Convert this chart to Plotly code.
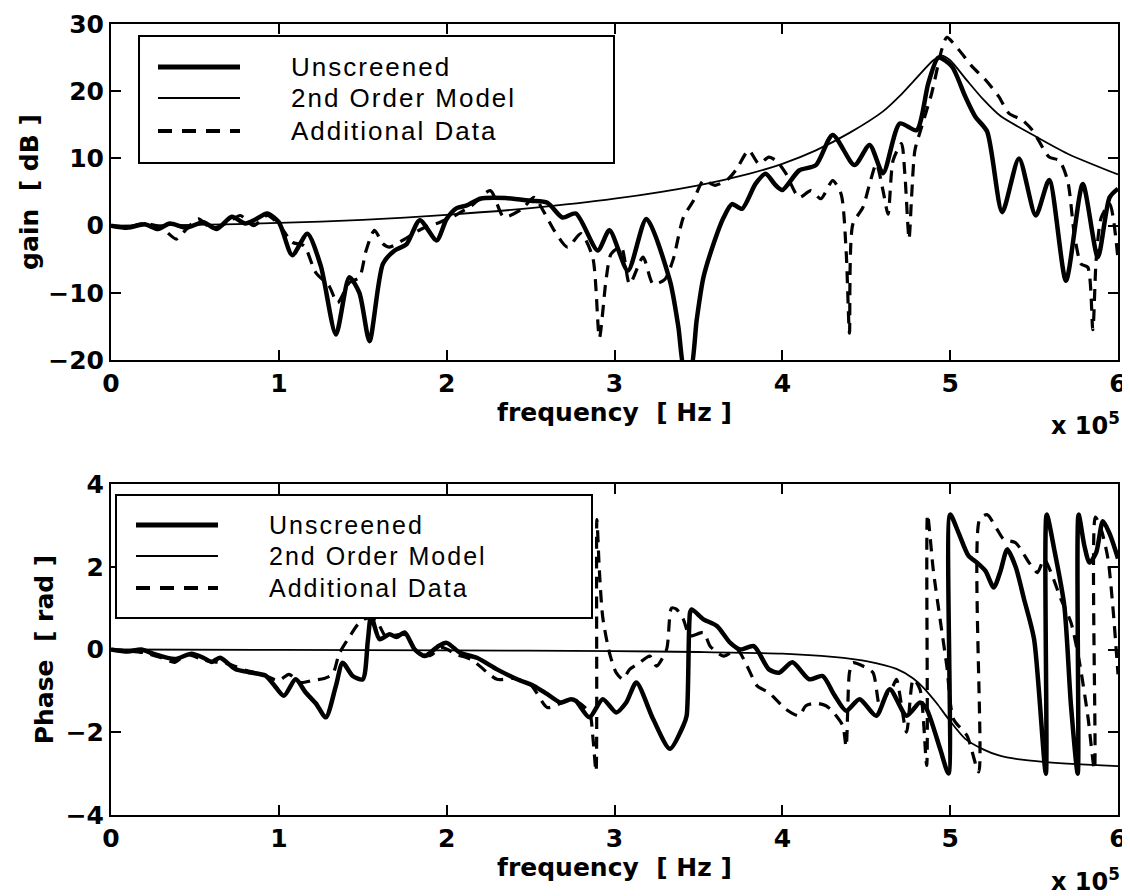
import plotly.graph_objects as go

# ---------------- data (frequency in units of 1e5 Hz) ----------------
# Gain [dB]
f_unscr_gain = [0.00, 0.10, 0.20, 0.28, 0.35, 0.45, 0.55, 0.63, 0.72, 0.80, 0.86, 0.93, 1.00, 1.08, 1.17, 1.25,
                1.34, 1.42, 1.48, 1.54, 1.62, 1.69, 1.76, 1.84, 1.94, 2.00, 2.06, 2.12, 2.20, 2.35, 2.50, 2.60,
                2.69, 2.77, 2.90, 2.97, 3.08, 3.19, 3.33, 3.38, 3.42, 3.45, 3.49, 3.53, 3.60, 3.65, 3.70, 3.76,
                3.84, 3.90, 3.96, 4.00, 4.10, 4.20, 4.30, 4.43, 4.52, 4.60, 4.70, 4.80, 4.87, 4.93, 5.01, 5.09,
                5.15, 5.22, 5.31, 5.41, 5.51, 5.59, 5.69, 5.79, 5.88, 5.95, 6.00]
unscr_gain = [0.0, -0.3, 0.2, -0.5, 0.3, -0.3, 0.5, -0.5, 1.3, 0.3, 0.9, 1.8, 0.5, -4.4, -1.2, -6.0,
              -16.2, -7.7, -10.0, -17.2, -5.7, -3.7, -2.8, 0.8, -2.2, 1.0, 2.6, 3.0, 4.0, 4.1, 3.7, 3.4,
              1.2, 1.8, -3.7, -0.7, -6.7, 1.0, -8.2, -15.0, -22.0, -22.0, -14.0, -7.7, -2.0, 1.2, 3.2, 2.5,
              6.2, 7.7, 6.0, 5.3, 8.2, 9.0, 13.5, 9.0, 12.0, 7.8, 15.2, 14.2, 21.2, 25.0, 23.7, 19.2,
              16.2, 14.0, 2.0, 10.0, 1.5, 6.8, -8.2, 6.2, -4.7, 4.2, 5.5]

f_model_gain = [0.0, 0.5, 1.0, 1.5, 2.0, 2.5, 3.0, 3.5, 3.8, 4.0, 4.2, 4.4, 4.6, 4.7, 4.8, 4.9, 4.95,
                5.0, 5.1, 5.2, 5.3, 5.5, 5.7, 6.0]
model_gain = [0.0, 0.1, 0.4, 0.85, 1.6, 2.6, 4.0, 6.0, 7.7, 9.2, 11.2, 13.8, 17.0, 19.3, 22.0, 24.6, 25.3,
              24.6, 21.6, 18.7, 16.3, 13.4, 10.7, 7.6]

f_add_gain = [0.00, 0.10, 0.20, 0.30, 0.39, 0.45, 0.52, 0.60, 0.70, 0.77, 0.85, 0.93, 1.00, 1.08, 1.15, 1.22,
              1.30, 1.35, 1.42, 1.48, 1.52, 1.57, 1.62, 1.66, 1.75, 1.85, 1.96, 2.05, 2.15, 2.26, 2.34, 2.45,
              2.52, 2.58, 2.64, 2.72, 2.80, 2.87, 2.91, 2.95, 2.98, 3.04, 3.09, 3.17, 3.23, 3.30, 3.35, 3.41,
              3.47, 3.53, 3.60, 3.68, 3.73, 3.80, 3.86, 3.92, 3.97, 4.02, 4.10, 4.17, 4.23, 4.30, 4.35, 4.38,
              4.40, 4.42, 4.48, 4.52, 4.56, 4.60, 4.63, 4.66, 4.71, 4.73, 4.755, 4.77, 4.79, 4.83, 4.89, 4.95,
              4.98, 5.05, 5.13, 5.21, 5.29, 5.35, 5.43, 5.49, 5.59, 5.65, 5.70, 5.74, 5.78, 5.82, 5.85, 5.87,
              5.90, 5.95, 6.00]
add_gain = [0.0, -0.2, 0.3, -0.3, -2.0, -0.5, 1.0, -0.4, 0.5, 1.5, 0.0, 1.5, 0.2, -2.5, -3.0, -7.0,
            -9.0, -11.5, -8.5, -7.7, -3.7, -0.7, -2.7, -3.2, -2.0, -0.5, 0.5, 1.5, 3.0, 5.2, 1.3, 2.5,
            4.2, 2.0, -0.7, -3.2, -1.2, -4.7, -16.7, -8.0, -4.2, -3.2, -8.7, -4.7, -8.7, -8.0, -5.0, 1.2,
            3.7, 6.7, 6.0, 7.0, 8.5, 11.2, 9.2, 10.2, 9.5, 7.8, 4.2, 5.2, 4.0, 6.7, 4.7, -3.7,
            -16.0, 0.2, 2.7, 6.2, 9.2, 5.2, 1.7, 9.7, 12.2, 7.7, -2.0, 4.2, 11.2, 14.7, 19.7, 26.2,
            28.0, 26.2, 23.7, 21.7, 19.2, 16.7, 15.7, 14.2, 10.2, 9.7, 6.7, -1.3, -5.7, -6.2, -15.5, -5.0,
            1.2, 3.2, -5.0]

# Phase [rad]
f_unscr_phase = [0.00, 0.10, 0.18, 0.25, 0.38, 0.48, 0.55, 0.60, 0.65, 0.74, 0.82, 0.92, 0.97, 1.03, 1.10, 1.16,
                 1.22, 1.28, 1.34, 1.38, 1.44, 1.50, 1.53, 1.55, 1.60, 1.66, 1.70, 1.75, 1.81, 1.87, 1.95, 2.00,
                 2.08, 2.18, 2.30, 2.42, 2.52, 2.60, 2.68, 2.74, 2.77, 2.85, 2.93, 3.01, 3.07, 3.13, 3.23, 3.33,
                 3.41, 3.43, 3.45, 3.46, 3.53, 3.61, 3.69, 3.75, 3.83, 3.92, 3.98, 4.06, 4.16, 4.24, 4.31, 4.38,
                 4.46, 4.56, 4.64, 4.74, 4.82, 4.86, 4.94, 4.99, 5.00, 5.05, 5.11, 5.16, 5.21, 5.26, 5.30, 5.34,
                 5.39, 5.44, 5.50, 5.57, 5.575, 5.62, 5.68, 5.72, 5.76, 5.765, 5.80, 5.83, 5.87, 5.91, 5.95, 6.00]
unscr_phase = [0.0, -0.05, 0.0, -0.1, -0.23, -0.1, -0.2, -0.3, -0.2, -0.47, -0.55, -0.63, -0.85, -1.12, -0.72, -1.04,
               -1.3, -1.64, -0.88, -0.32, -0.64, -0.72, 0.2, 0.81, 0.25, 0.37, 0.3, 0.41, 0.0, -0.16, 0.08, 0.16,
               -0.08, -0.2, -0.48, -0.72, -0.88, -1.08, -1.28, -1.2, -1.24, -1.64, -1.2, -1.52, -1.28, -0.8, -1.68, -2.4,
               -1.84, -1.6, 0.89, 0.97, 0.73, 0.57, 0.16, 0.0, 0.08, -0.48, -0.56, -0.31, -0.72, -0.64, -1.1, -1.48,
               -1.2, -1.6, -0.96, -1.6, -1.28, -1.44, -2.4, -3.0, 3.26, 2.82, 2.26, 2.1, 1.9, 1.5, 1.9, 2.42,
               2.0, 1.22, 0.25, -3.0, 3.26, 2.42, 1.06, -1.36, -3.0, 3.26, 2.5, 2.1, 2.34, 3.1, 2.8, 2.2]

f_model_phase = [0.0, 1.0, 2.0, 3.0, 3.5, 4.0, 4.3, 4.5, 4.68, 4.78, 4.84, 4.92, 4.99, 5.09, 5.2, 5.29,
                 5.4, 5.57, 5.75, 6.0]
model_phase = [0.0, -0.01, -0.02, -0.04, -0.06, -0.1, -0.18, -0.28, -0.47, -0.7, -0.92, -1.3, -1.68, -2.16, -2.42, -2.56,
               -2.65, -2.72, -2.77, -2.82]

f_add_phase = [0.00, 0.10, 0.20, 0.30, 0.38, 0.45, 0.55, 0.62, 0.70, 0.80, 0.90, 1.00, 1.06, 1.13, 1.20, 1.27,
               1.32, 1.36, 1.42, 1.47, 1.52, 1.58, 1.64, 1.70, 1.76, 1.82, 1.90, 1.97, 2.06, 2.15, 2.30, 2.40,
               2.50, 2.60, 2.68, 2.75, 2.85, 2.87, 2.89, 2.895, 2.91, 2.93, 2.97, 3.01, 3.05, 3.09, 3.15, 3.21,
               3.25, 3.31, 3.34, 3.37, 3.41, 3.45, 3.53, 3.57, 3.65, 3.73, 3.79, 3.85, 3.92, 3.96, 4.02, 4.10,
               4.14, 4.20, 4.26, 4.30, 4.36, 4.38, 4.40, 4.42, 4.48, 4.54, 4.58, 4.62, 4.66, 4.68, 4.74, 4.78,
               4.82, 4.86, 4.865, 4.90, 4.94, 4.98, 5.02, 5.10, 5.17, 5.175, 5.22, 5.28, 5.32, 5.39, 5.47, 5.52,
               5.56, 5.66, 5.72, 5.77, 5.82, 5.86, 5.865, 5.90, 5.94, 5.97, 6.00]
add_phase = [0.0, -0.03, -0.08, -0.2, -0.31, -0.12, -0.25, -0.3, -0.35, -0.5, -0.6, -0.75, -0.6, -0.8, -0.75, -0.7,
             -0.6, -0.1, 0.3, 0.6, 0.75, 0.7, 0.3, 0.35, 0.35, -0.05, -0.15, 0.05, -0.12, -0.25, -0.72, -0.7,
             -0.85, -1.4, -1.3, -1.2, -1.52, -2.07, -2.95, 3.14, 1.9, 0.78, -0.08, -0.56, -0.72, -0.48, -0.32, -0.16,
             -0.4, 0.0, 1.0, 0.97, 0.73, 0.33, 0.41, 0.08, -0.16, 0.0, -0.4, -0.88, -1.04, -1.2, -1.44, -1.6,
             -1.36, -1.3, -1.36, -1.5, -1.84, -2.35, -0.56, -0.32, -0.4, -0.56, -1.36, -1.1, -0.88, -0.72, -2.0, -0.72,
             -0.96, -2.8, 3.26, 1.9, 0.73, -0.4, -1.68, -2.08, -2.96, 3.14, 3.26, 2.9, 2.66, 2.58, 2.1, 1.86,
             2.18, 1.22, 0.65, -0.3, -1.6, -2.9, 3.2, 2.9, 2.2, 1.0, -0.6]

x_ticks = [0, 1, 2, 3, 4, 5, 6]
gain_ticks = [-20, -10, 0, 10, 20, 30]
phase_ticks = [-4, -2, 0, 2, 4]
legend_labels = ["Unscreened", "2nd Order Model", "Additional Data"]

# ---------------- figure ----------------
W, H = 1130, 896


def px(x):
    return x / W


def py(y):
    return 1 - y / H


X0, X1 = 103, 1110
TOP = (16, 352)
BOT = (476, 807)

thick = dict(color="black", width=4.5, shape="spline", smoothing=0.7)
thin = dict(color="black", width=1.8, shape="spline", smoothing=0.7)
dashed = dict(color="black", width=3.2, dash="12px,8px", shape="spline", smoothing=0.7)

fig = go.Figure()
fig.add_trace(go.Scatter(x=f_model_gain, y=model_gain, mode="lines", line=thin, name=legend_labels[1],
                         xaxis="x", yaxis="y", showlegend=False))
fig.add_trace(go.Scatter(x=f_add_gain, y=add_gain, mode="lines", line=dashed, name=legend_labels[2],
                         xaxis="x", yaxis="y", showlegend=False))
fig.add_trace(go.Scatter(x=f_unscr_gain, y=unscr_gain, mode="lines", line=thick, name=legend_labels[0],
                         xaxis="x", yaxis="y", showlegend=False))
fig.add_trace(go.Scatter(x=f_model_phase, y=model_phase, mode="lines", line=thin, name=legend_labels[1],
                         xaxis="x2", yaxis="y2", showlegend=False))
fig.add_trace(go.Scatter(x=f_add_phase, y=add_phase, mode="lines", line=dashed, name=legend_labels[2],
                         xaxis="x2", yaxis="y2", showlegend=False))
fig.add_trace(go.Scatter(x=f_unscr_phase, y=unscr_phase, mode="lines", line=thick, name=legend_labels[0],
                         xaxis="x2", yaxis="y2", showlegend=False))

BOLD = "DejaVu Sans"
LEG = "Liberation Sans"
tickfont = dict(family=BOLD, size=25, color="black", weight="bold")
titlefont = dict(family=BOLD, size=25, color="black", weight="bold")

common_x = dict(range=[0, 6], tickvals=x_ticks, ticktext=[str(v) for v in x_ticks], ticks="inside", ticklen=10,
                tickwidth=1.5, tickcolor="black", showline=True, linewidth=2, linecolor="black", mirror="ticks",
                showgrid=False, zeroline=False, tickfont=tickfont, domain=[px(X0), px(X1)], automargin=False)
common_y = dict(ticks="inside", ticklen=10, tickwidth=1.5, tickcolor="black", showline=True, linewidth=2,
                linecolor="black", mirror="ticks", showgrid=False, zeroline=False, tickfont=tickfont,
                automargin=False)

fig.update_layout(
    template="none",
    width=W, height=H, paper_bgcolor="white", plot_bgcolor="white",
    margin=dict(l=0, r=0, t=0, b=0, autoexpand=False),
    xaxis=dict(**common_x, anchor="y",
               title=dict(text="frequency  [ Hz ]", font=titlefont, standoff=2)),
    yaxis=dict(**common_y, range=[-20, 30], tickvals=gain_ticks, anchor="x",
               domain=[py(TOP[1]), py(TOP[0])],
               title=dict(text="gain  [ dB ]", font=titlefont, standoff=3)),
    xaxis2=dict(**common_x, anchor="y2",
                title=dict(text="frequency  [ Hz ]", font=titlefont, standoff=2)),
    yaxis2=dict(**common_y, range=[-4, 4], tickvals=phase_ticks, anchor="x2",
                domain=[py(BOT[1]), py(BOT[0])],
                title=dict(text="Phase  [ rad ]", font=titlefont, standoff=5)),
)

# exponent labels
for ybot in (434, 890):
    fig.add_annotation(x=px(X1 + 4), y=py(ybot), xref="paper", yref="paper", xanchor="right", yanchor="bottom",
                       text="x 10<sup>5</sup>", showarrow=False, font=dict(family=BOLD, size=24, color="black",
                                                                            weight="bold"))

# hand-drawn style legends (one per panel)
legend_boxes = [
    dict(box=(131, 28, 606, 155), sample=(150, 232), rows=(59, 90, 123), text_x=281, size=26),
    dict(box=(108, 487, 584, 610), sample=(128, 210), rows=(517, 548, 580), text_x=259, size=25),
]
styles = [dict(width=5), dict(width=2), dict(width=4, dash="14px,10px")]
for lb in legend_boxes:
    x0, y0, x1, y1 = lb["box"]
    fig.add_shape(type="rect", xref="paper", yref="paper", x0=px(x0), x1=px(x1), y0=py(y1), y1=py(y0),
                  line=dict(color="black", width=2), fillcolor="white", layer="above")
    for lab, ry, st in zip(legend_labels, lb["rows"], styles):
        fig.add_shape(type="line", xref="paper", yref="paper", x0=px(lb["sample"][0]), x1=px(lb["sample"][1]),
                      y0=py(ry), y1=py(ry), line=dict(color="black", **st), layer="above")
        fig.add_annotation(x=px(lb["text_x"]), y=py(ry), xref="paper", yref="paper", xanchor="left",
                           yanchor="middle", showarrow=False,
                           text='<span style="letter-spacing:2px">' + lab + '</span>',
                           font=dict(family=LEG, size=lb["size"], color="black"))

fig.write_html("out.html")
